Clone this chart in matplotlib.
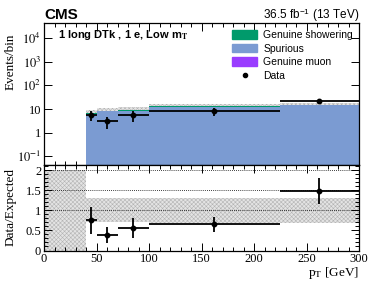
import numpy as np
import matplotlib as mpl
mpl.use('Agg')
import matplotlib.pyplot as plt
from matplotlib.patches import Patch
from matplotlib.lines import Line2D
from matplotlib.ticker import FixedLocator, NullFormatter, MultipleLocator, FuncFormatter

#----- INPUT -----
edges = [40, 50, 70, 100, 225, 300]
spurious = [5.9, 8.2, 8.0, 12.6, 14.1]
showering = [1.2, 0.3, 1.2, 0.45, 0.25]
muon = [0.0, 0.0, 0.0, 0.0, 0.0]
bkg_unc = [0.3, 0.3, 0.3, 0.31, 0.31]   # relative

data_x = [45, 60, 85, 162, 262]
data_y = [5.5, 3.2, 5.5, 8.5, 21.5]
data_lo = [2.3, 1.8, 2.6, 3.3, 3.5]
data_hi = [3.0, 1.5, 3.0, 2.2, 2.5]

ratio = [0.75, 0.38, 0.57, 0.65, 1.49]
ratio_err = [0.33, 0.2, 0.25, 0.18, 0.33]

col_show = '#009a6b'
col_spur = '#7b9bd2'
col_muon = '#9a3cff'
#-----------------------------------------

plt.rcParams['font.family'] = 'Liberation Serif'
plt.rcParams['mathtext.fontset'] = 'stix'
plt.rcParams['hatch.linewidth'] = 0.4
plt.rcParams['hatch.color'] = '#b4b4b4'
band_face = '#e4e4e4'
band_hatch = 'xxxxxxxx'

W, H = 374, 301
fig = plt.figure(figsize=[W/100., H/100.], dpi=100)

def box(l, t, r, b):
    return [l/W, 1-b/H, (r-l)/W, (b-t)/H]

ax = fig.add_axes(box(44, 23, 359, 165.3))
rax = fig.add_axes(box(44, 165.3, 359, 250.5), sharex=ax)

edges = np.array(edges, float)
spur = np.array(spurious)
show = np.array(showering)
mu = np.array(muon)
tot = spur + show + mu
unc = np.array(bkg_unc)

# uncertainty band behind the stack
ax.stairs(tot*(1+unc), edges, baseline=tot*(1-unc), fill=True,
          facecolor=band_face, edgecolor='#b4b4b4', hatch=band_hatch, lw=0, zorder=1)
ax.stairs(spur, edges, baseline=1e-3, fill=True, color=col_spur, zorder=2)
ax.stairs(spur+show, edges, baseline=spur, fill=True, color=col_show, zorder=2)
ax.stairs(tot, edges, baseline=spur+show, fill=True, color=col_muon, zorder=2)

xerr = [np.array(data_x)-edges[:-1], edges[1:]-np.array(data_x)]
ax.errorbar(data_x, data_y, xerr=xerr, yerr=[data_lo, data_hi], fmt='o',
            color='k', ms=3.2, lw=1.3, capsize=0, zorder=5)

ax.set_yscale('log')
ax.set_xlim(0, 300)
ax.set_ylim(0.042, 4.3e4)

def logfmt(v, pos):
    e = int(round(np.log10(v)))
    if e == 0:
        return '1'
    if e == 1:
        return '10'
    return r'$10^{%d}$' % e
ax.yaxis.set_major_locator(FixedLocator([1e-1, 1, 10, 1e2, 1e3, 1e4]))
ax.yaxis.set_major_formatter(FuncFormatter(logfmt))
ax.yaxis.set_minor_locator(mpl.ticker.LogLocator(subs=np.arange(2, 10)))
ax.yaxis.set_minor_formatter(NullFormatter())
ax.xaxis.set_major_locator(MultipleLocator(50))
ax.xaxis.set_minor_locator(MultipleLocator(10))
ax.tick_params(axis='x', labelbottom=False)

# ratio panel
rax.stairs([2.0], [0, 40], baseline=0, fill=True, facecolor=band_face,
           edgecolor='#b4b4b4', hatch=band_hatch, lw=0, zorder=1)
rax.stairs(1+unc, edges, baseline=1-unc, fill=True, facecolor=band_face,
           edgecolor='#b4b4b4', hatch=band_hatch, lw=0, zorder=1)
for yv in [1.0, 1.5, 2.0]:
    rax.axhline(yv, color='k', ls=(0, (1, 1.5)), lw=0.6, zorder=2)
rax.errorbar(data_x, ratio, xerr=xerr, yerr=ratio_err, fmt='o', color='k',
             ms=3.2, lw=1.3, capsize=0, zorder=5)
rax.set_ylim(0, 2.125)
rax.yaxis.set_major_locator(FixedLocator([0, 0.5, 1, 1.5, 2]))
rax.yaxis.set_major_formatter(FuncFormatter(lambda v, p: '%g' % v))
rax.yaxis.set_minor_locator(MultipleLocator(0.1))

for a in (ax, rax):
    a.tick_params(which='both', direction='in', top=True, right=True,
                  labelsize=9, width=0.7, pad=2)
    a.tick_params(which='major', length=6)
    a.tick_params(which='minor', length=3)
    for s in a.spines.values():
        s.set_linewidth(0.9)

rax.set_xlabel(r'p$_{\mathrm{T}}$ [GeV]', fontsize=9.5, loc='right', labelpad=0)

fig.text(10.5/W, 1-33/H, 'Events/bin', rotation=90, ha='center', va='top', fontsize=9.5)
fig.text(10.5/W, 1-207/H, 'Data/Expected', rotation=90, ha='center', va='center', fontsize=9.5)

sans = 'Liberation Sans'
fig.text(44/W, 1-19/H, 'CMS', fontsize=11, fontweight='bold', family=sans)
fig.text(359/W, 1-19/H, r'36.5 fb$^{\mathregular{-1}}$ (13 TeV)', ha='right', fontsize=8.5, family=sans)
ax.text((58-44)/315., (165.3-38)/142.3, r'1 long DTk , 1 e, Low m$_{\mathbf{T}}$',
        transform=ax.transAxes, fontsize=8, fontweight='bold', family=sans)

handles = [Patch(color=col_show), Patch(color=col_spur), Patch(color=col_muon),
           Line2D([], [], marker='o', color='k', ls='none', ms=3)]
labels = ['Genuine showering', 'Spurious', 'Genuine muon', 'Data']
leg = ax.legend(handles, labels, loc='upper left', bbox_to_anchor=((232-44)/315., (165.3-30)/142.3),
                frameon=False, prop={'family': sans, 'size': 7.5},
                handlelength=2.4, handleheight=0.9, handletextpad=0.6,
                labelspacing=0.35, borderpad=0, borderaxespad=0)
leg.set_zorder(10)

fig.savefig('out.png', dpi=100)
plt.close(fig)
